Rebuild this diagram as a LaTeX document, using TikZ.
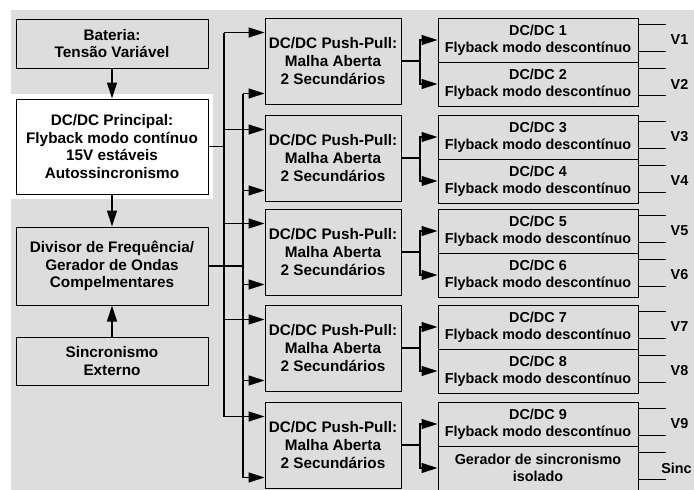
\documentclass[tikz,border=0pt]{standalone}
\usepackage{fontspec}
\setmainfont{Liberation Sans}
\usetikzlibrary{arrows.meta}
\definecolor{panelgray}{RGB}{221,221,221}

\begin{document}
\begin{tikzpicture}[x=1pt, y=-1pt,
  box/.style={draw, fill=panelgray, line width=1pt, align=center, inner sep=0pt, font=\bfseries\fontsize{15.3}{17.8}\selectfont},
  ppbox/.style={box, minimum width=136pt, minimum height=86pt},
  flybox/.style={draw, fill=panelgray, line width=1pt, align=center, inner sep=0pt, minimum width=200pt, minimum height=44pt, font=\bfseries\fontsize{14.4}{16.7}\selectfont},
  wire/.style={line width=1.2pt},
  arr/.style={wire, -{Triangle[length=16pt, width=10pt]}},
  outwire/.style={line width=0.8pt},
  vlab/.style={font=\bfseries\fontsize{14.4}{16.7}\selectfont}]
\useasboundingbox (0,0) rectangle (694,490);
\fill[panelgray] (11,10) rectangle (694,490);

% Left column
\node[box, minimum width=192pt, minimum height=49pt] (bat) at (112,43.5) {Bateria:\\Tensão Variável};
\node[box, fill=white, preaction={draw=white, line width=10pt}, minimum width=192pt, minimum height=95pt] (princ) at (112,146.5) {DC/DC Principal:\\Flyback modo contínuo\\15V estáveis\\Autossincronismo};
\node[box, minimum width=192pt, minimum height=78pt] (div) at (112,266) {Divisor de Frequência/\\Gerador de Ondas\\Compelmentares};
\node[box, minimum width=192pt, minimum height=48pt] (sinc) at (112,361) {Sincronismo\\Externo};
\draw[arr] (bat) -- (princ);
\draw[arr] (princ) -- (div);
\draw[arr] (sinc) -- (div);

% Push-Pull stages
\node[ppbox] (pp1) at (333,61) {DC/DC Push-Pull:\\Malha Aberta\\2 Secundários};
\node[ppbox] (pp2) at (333,158) {DC/DC Push-Pull:\\Malha Aberta\\2 Secundários};
\node[ppbox] (pp3) at (333,252) {DC/DC Push-Pull:\\Malha Aberta\\2 Secundários};
\node[ppbox] (pp4) at (333,348) {DC/DC Push-Pull:\\Malha Aberta\\2 Secundários};
\node[ppbox] (pp5) at (333,445) {DC/DC Push-Pull:\\Malha Aberta\\2 Secundários};

% Flyback stages
\node[flybox] (fb1) at (538,40) {DC/DC 1\\Flyback modo descontínuo};
\node[flybox] (fb2) at (538,84) {DC/DC 2\\Flyback modo descontínuo};
\node[flybox] (fb3) at (538,137) {DC/DC 3\\Flyback modo descontínuo};
\node[flybox] (fb4) at (538,181) {DC/DC 4\\Flyback modo descontínuo};
\node[flybox] (fb5) at (538,231) {DC/DC 5\\Flyback modo descontínuo};
\node[flybox] (fb6) at (538,275) {DC/DC 6\\Flyback modo descontínuo};
\node[flybox] (fb7) at (538,327) {DC/DC 7\\Flyback modo descontínuo};
\node[flybox] (fb8) at (538,371) {DC/DC 8\\Flyback modo descontínuo};
\node[flybox] (fb9) at (538,424) {DC/DC 9\\Flyback modo descontínuo};
\node[flybox] (gsinc) at (538,468) {Gerador de sincronismo\\isolado};

% Buses from principal and divisor
\coordinate (bus1) at (224,0);
\coordinate (bus2) at (243,0);
\coordinate (pp1a) at ([yshift=-15pt]pp1.north west);
\coordinate (pp2a) at ([yshift=-15pt]pp2.north west);
\coordinate (pp3a) at ([yshift=-15pt]pp3.north west);
\coordinate (pp4a) at ([yshift=-15pt]pp4.north west);
\coordinate (pp5a) at ([yshift=-15pt]pp5.north west);
\coordinate (pp1b) at ([yshift=11pt]pp1.south west);
\coordinate (pp2b) at ([yshift=11pt]pp2.south west);
\coordinate (pp3b) at ([yshift=11pt]pp3.south west);
\coordinate (pp4b) at ([yshift=11pt]pp4.south west);
\coordinate (pp5b) at ([yshift=11pt]pp5.south west);
\draw[wire] (princ.east) -- (princ.east -| bus1);
\draw[wire] (pp1a -| bus1) -- (pp5a -| bus1);
\draw[wire] (div.east) -- (div.east -| bus2);
\draw[wire] (pp1b -| bus2) -- (pp5b -| bus2);
\draw[arr] (pp1a -| bus1) -- (pp1a);
\draw[arr] (pp2a -| bus1) -- (pp2a);
\draw[arr] (pp3a -| bus1) -- (pp3a);
\draw[arr] (pp4a -| bus1) -- (pp4a);
\draw[arr] (pp5a -| bus1) -- (pp5a);
\draw[arr] (pp1b -| bus2) -- (pp1b);
\draw[arr] (pp2b -| bus2) -- (pp2b);
\draw[arr] (pp3b -| bus2) -- (pp3b);
\draw[arr] (pp4b -| bus2) -- (pp4b);
\draw[arr] (pp5b -| bus2) -- (pp5b);

% Push-Pull to flyback splits
\coordinate (split) at (420,0);
\draw[wire] (pp1.east) -- (pp1.east -| split);
\draw[arr] (pp1.east -| split) |- (fb1.west);
\draw[arr] (pp1.east -| split) |- (fb2.west);
\draw[wire] (pp2.east) -- (pp2.east -| split);
\draw[arr] (pp2.east -| split) |- (fb3.west);
\draw[arr] (pp2.east -| split) |- (fb4.west);
\draw[wire] (pp3.east) -- (pp3.east -| split);
\draw[arr] (pp3.east -| split) |- (fb5.west);
\draw[arr] (pp3.east -| split) |- (fb6.west);
\draw[wire] (pp4.east) -- (pp4.east -| split);
\draw[arr] (pp4.east -| split) |- (fb7.west);
\draw[arr] (pp4.east -| split) |- (fb8.west);
\draw[wire] (pp5.east) -- (pp5.east -| split);
\draw[arr] (pp5.east -| split) |- (fb9.west);
\draw[arr] (pp5.east -| split) |- (gsinc.west);

% Outputs
\draw[outwire] ([yshift=-7pt]fb1.north east) -- ++(27,0);
\draw[outwire] ([yshift=11pt]fb1.south east) -- ++(27,0);
\node[vlab] (v1) at ([xshift=41pt]fb1.east) {V1};
\draw[outwire] ([yshift=-7pt]fb2.north east) -- ++(27,0);
\draw[outwire] ([yshift=11pt]fb2.south east) -- ++(27,0);
\node[vlab] (v2) at ([xshift=41pt]fb2.east) {V2};
\draw[outwire] ([yshift=-7pt]fb3.north east) -- ++(27,0);
\draw[outwire] ([yshift=11pt]fb3.south east) -- ++(27,0);
\node[vlab] (v3) at ([xshift=41pt]fb3.east) {V3};
\draw[outwire] ([yshift=-7pt]fb4.north east) -- ++(27,0);
\draw[outwire] ([yshift=11pt]fb4.south east) -- ++(27,0);
\node[vlab] (v4) at ([xshift=41pt]fb4.east) {V4};
\draw[outwire] ([yshift=-7pt]fb5.north east) -- ++(27,0);
\draw[outwire] ([yshift=11pt]fb5.south east) -- ++(27,0);
\node[vlab] (v5) at ([xshift=41pt]fb5.east) {V5};
\draw[outwire] ([yshift=-7pt]fb6.north east) -- ++(27,0);
\draw[outwire] ([yshift=11pt]fb6.south east) -- ++(27,0);
\node[vlab] (v6) at ([xshift=41pt]fb6.east) {V6};
\draw[outwire] ([yshift=-7pt]fb7.north east) -- ++(27,0);
\draw[outwire] ([yshift=11pt]fb7.south east) -- ++(27,0);
\node[vlab] (v7) at ([xshift=41pt]fb7.east) {V7};
\draw[outwire] ([yshift=-7pt]fb8.north east) -- ++(27,0);
\draw[outwire] ([yshift=11pt]fb8.south east) -- ++(27,0);
\node[vlab] (v8) at ([xshift=41pt]fb8.east) {V8};
\draw[outwire] ([yshift=-7pt]fb9.north east) -- ++(27,0);
\draw[outwire] ([yshift=11pt]fb9.south east) -- ++(27,0);
\node[vlab] (v9) at ([xshift=41pt]fb9.east) {V9};
\draw[outwire] ([yshift=-7pt]gsinc.north east) -- ++(27,0);
\draw[outwire] ([yshift=11pt]gsinc.south east) -- ++(27,0);
\node[vlab] (vs) at ([xshift=38pt]gsinc.east) {Sinc};
\end{tikzpicture}
\end{document}
